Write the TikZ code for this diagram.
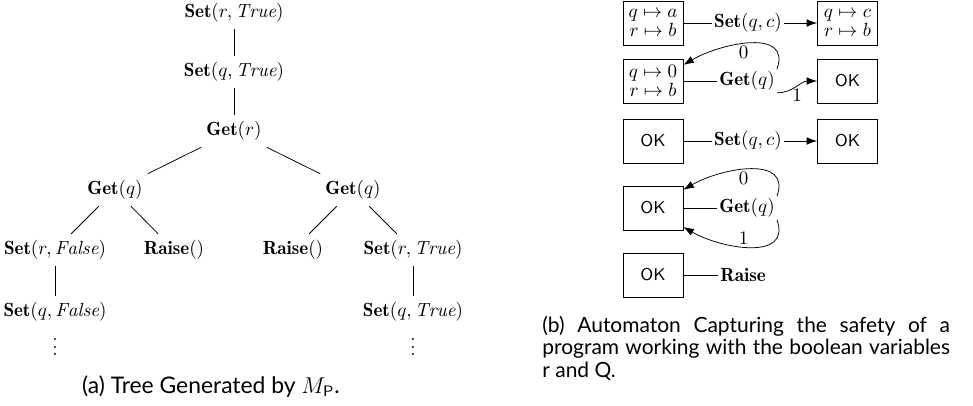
\documentclass[tikz,border=0pt]{standalone}
\usepackage{fontspec}
\newfontfamily\capfont{Lato}
\usetikzlibrary{arrows.meta}

\begin{document}
\begin{tikzpicture}[x=0.525pt,y=-0.525pt,
    state/.style={draw,minimum width=31.5pt,minimum height=23pt,inner sep=1pt,font=\sffamily\fontsize{9}{10}\selectfont},
    vals/.style={state,align=center,font=\fontsize{10}{10}\selectfont},
    op/.style={inner sep=1pt},
    trans/.style={-{Latex[length=5.5pt,width=4pt]}},
    caption/.style={inner sep=0pt,font=\capfont\fontsize{11}{12}\selectfont}]
  \useasboundingbox (0,0) rectangle (973,405);
  % (a) the tree
  \node (sr) at (234,13) {$\mathbf{Set}(r, \mathit{True})$};
  \node (sq) at (234,72) {$\mathbf{Set}(q, \mathit{True})$};
  \node (gr) at (234,131) {$\mathbf{Get}(r)$};
  \node (gql) at (115,190) {$\mathbf{Get}(q)$};
  \node (gqr) at (353,190) {$\mathbf{Get}(q)$};
  \node (srf) at (55,250) {$\mathbf{Set}(r, \mathit{False})$};
  \node (rl) at (174,250) {$\mathbf{Raise}()$};
  \node (rr) at (293,250) {$\mathbf{Raise}()$};
  \node (srt) at (413,250) {$\mathbf{Set}(r, \mathit{True})$};
  \node (sqf) at (55,312) {$\mathbf{Set}(q, \mathit{False})$};
  \node (sqt) at (413,312) {$\mathbf{Set}(q, \mathit{True})$};
  \node[inner sep=0pt,anchor=south] (dl) at (55,356) {$\vdots$};
  \node[inner sep=0pt,anchor=south] (dr) at (413,356) {$\vdots$};
  \draw (sr) -- (sq);
  \draw (sq) -- (gr);
  \draw (gr) -- (gql);
  \draw (gr) -- (gqr);
  \draw (gql) -- (srf);
  \draw (gql) -- (rl);
  \draw (gqr) -- (rr);
  \draw (gqr) -- (srt);
  \draw (srf) -- (sqf);
  \draw (srt) -- (sqt);
  \node[caption,anchor=base,font=\capfont\fontsize{12}{12}\selectfont] (capa) at (211,393) {(a) Tree Generated by $M_{\mathsf{P}}$.};
  % (b) the automaton
  \node[vals] (b1) at (653,23) {$q\mapsto a$\\$r\mapsto b$};
  \node[op] (op1) at (748,23) {$\mathbf{Set}(q,c)$};
  \node[vals] (b2) at (847.5,23) {$q\mapsto c$\\$r\mapsto b$};
  \node[vals] (b3) at (653,81) {$q\mapsto 0$\\$r\mapsto b$};
  \node[op] (op2) at (747,81) {$\mathbf{Get}(q)$};
  \node[state] (b4) at (847.5,81) {OK};
  \node[state] (b5) at (653,141) {OK};
  \node[op] (op3) at (748,141) {$\mathbf{Set}(q,c)$};
  \node[state] (b6) at (847.5,141) {OK};
  \node[state] (b7) at (653,208) {OK};
  \node[op] (op4) at (747,208) {$\mathbf{Get}(q)$};
  \node[state] (b8) at (653,275) {OK};
  \node[op] (op5) at (743,275) {$\mathbf{Raise}$};
  \draw (b1) -- (op1);
  \draw[trans] (op1) -- (b2);
  \draw (b3) -- (op2);
  \draw[trans] (op2.north east) to[out=70,in=30,looseness=1.2] node[below,pos=0.55,inner sep=1pt] {$0$} (b3.28);
  \draw[trans] (op2.south east) to[out=0,in=180] node[below,inner sep=1pt] {$1$} (b4);
  \draw (b5) -- (op3);
  \draw[trans] (op3) -- (b6);
  \draw (b7) -- (op4);
  \draw[trans] (op4.north east) to[out=70,in=30,looseness=1.2] node[below,pos=0.55,inner sep=1pt] {$0$} (b7.31);
  \draw[trans] (op4.south east) to[out=-70,in=-30,looseness=1.2] node[above,pos=0.55,inner sep=1pt] {$1$} (b7.-32);
  \draw (b8) -- (op5);
  \node[caption,anchor=base west,text width=214pt,align=justify] (capb) at (542,332)
    {(b) Automaton Capturing the safety of a\linebreak program working with the boolean variables\linebreak r and Q.};
\end{tikzpicture}
\end{document}
